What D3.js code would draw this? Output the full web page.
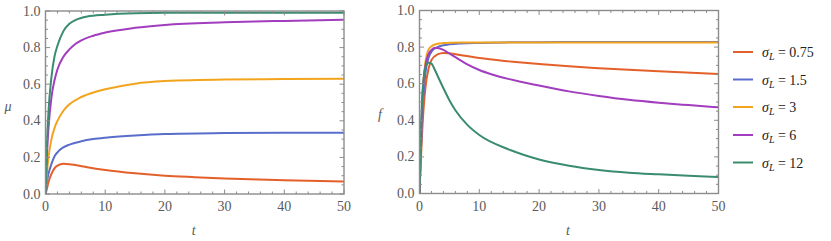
<!DOCTYPE html>
<html><head><meta charset="utf-8">
<script src="https://cdn.jsdelivr.net/npm/d3@7"></script>
<style>
html,body{margin:0;padding:0;background:#fff;}
svg text{font-family:"Liberation Serif","Times New Roman",Tinos,Times;}
</style></head>
<body>
<svg id="chart" width="831" height="241"></svg>
<script>
// ---------- data ----------
const sigmaLabels = ["0.75", "1.5", "3", "6", "12"];
const seriesColors = ["#E4602A", "#5B6DCB", "#F2A51C", "#A23DBF", "#3A8C6E"];
const xTicks = [0, 10, 20, 30, 40, 50];
const yTicks = [0.0, 0.2, 0.4, 0.6, 0.8, 1.0];

// left panel: mu(t)
const muT_075 = [0, 0.25, 0.5, 1, 1.5, 2, 3, 4, 5, 7, 10, 15, 20, 25, 30, 40, 50];
const muV_075 = [0, 0.03, 0.065, 0.11, 0.14, 0.155, 0.165, 0.163, 0.158, 0.146, 0.131, 0.113, 0.1, 0.092, 0.085, 0.075, 0.068];
const muT_15 = [0, 0.25, 0.5, 1, 1.5, 2, 3, 4, 6, 8, 10, 15, 20, 30, 40, 50];
const muV_15 = [0, 0.07, 0.11, 0.165, 0.205, 0.228, 0.255, 0.27, 0.288, 0.3, 0.308, 0.32, 0.328, 0.333, 0.335, 0.335];
const muT_3 = [0, 0.25, 0.5, 1, 1.5, 2, 3, 4, 6, 8, 10, 15, 20, 30, 40, 50];
const muV_3 = [0, 0.12, 0.2, 0.3, 0.36, 0.4, 0.455, 0.49, 0.53, 0.555, 0.572, 0.603, 0.617, 0.626, 0.628, 0.63];
const muT_6 = [0, 0.25, 0.5, 1, 1.5, 2, 3, 4, 5, 6, 8, 10, 15, 20, 30, 40, 50];
const muV_6 = [0, 0.22, 0.36, 0.53, 0.62, 0.68, 0.75, 0.79, 0.82, 0.84, 0.865, 0.882, 0.908, 0.924, 0.938, 0.946, 0.952];
const muT_12 = [0, 0.25, 0.5, 1, 1.5, 2, 3, 4, 5, 7, 10, 15, 20, 30, 40, 50];
const muV_12 = [0, 0.28, 0.45, 0.64, 0.75, 0.81, 0.89, 0.93, 0.95, 0.97, 0.98, 0.988, 0.99, 0.99, 0.99, 0.99];

// right panel: f(t)
const fT_075 = [0, 0.25, 0.5, 1, 1.5, 2, 3, 4, 5, 7, 10, 15, 20, 25, 30, 40, 50];
const fV_075 = [0, 0.2, 0.37, 0.58, 0.68, 0.73, 0.76, 0.768, 0.766, 0.755, 0.74, 0.722, 0.707, 0.695, 0.685, 0.668, 0.653];
const fT_15 = [0, 0.25, 0.5, 1, 1.5, 2, 3, 4, 5, 7, 10, 15, 20, 30, 40, 50];
const fV_15 = [0, 0.25, 0.45, 0.66, 0.74, 0.775, 0.8, 0.81, 0.815, 0.82, 0.823, 0.826, 0.827, 0.828, 0.828, 0.828];
const fT_3 = [0, 0.25, 0.5, 1, 1.5, 2, 3, 4, 5, 7, 10, 15, 20, 30, 40, 50];
const fV_3 = [0, 0.3, 0.52, 0.72, 0.785, 0.805, 0.818, 0.822, 0.824, 0.825, 0.825, 0.825, 0.825, 0.825, 0.825, 0.825];
const fT_6 = [0, 0.25, 0.5, 1, 1.5, 2, 2.5, 3, 4, 5, 6, 7, 8, 10, 12, 15, 20, 25, 30, 35, 40, 45, 50];
const fV_6 = [0, 0.3, 0.52, 0.7, 0.76, 0.785, 0.795, 0.795, 0.785, 0.765, 0.745, 0.725, 0.706, 0.675, 0.652, 0.625, 0.59, 0.558, 0.533, 0.512, 0.496, 0.483, 0.471];
const fT_12 = [0, 0.25, 0.5, 1, 1.5, 2, 2.5, 3, 4, 5, 6, 8, 10, 15, 20, 25, 30, 35, 40, 45, 50];
const fV_12 = [0, 0.35, 0.55, 0.69, 0.715, 0.71, 0.68, 0.645, 0.575, 0.51, 0.455, 0.375, 0.32, 0.24, 0.186, 0.152, 0.129, 0.114, 0.105, 0.097, 0.09];

const muSeries = [[muT_075, muV_075], [muT_15, muV_15], [muT_3, muV_3], [muT_6, muV_6], [muT_12, muV_12]];
const fSeries = [[fT_075, fV_075], [fT_15, fV_15], [fT_3, fV_3], [fT_6, fV_6], [fT_12, fV_12]];

// ---------- drawing ----------
const svg = d3.select("#chart");
const frameColor = "#8c8c8c";
const labelColor = "#5a5a5a";
const FONT = '"Liberation Serif", "Times New Roman", Tinos, Times';

function txt(sel) {
  return sel.append("text").attr("font-family", "Liberation Serif, Times New Roman, Tinos").style("font-family", FONT);
}

function panel(id, x0, x1, y0, y1, series, yLabel, yLabelPos) {
  const x = d3.scaleLinear().domain([0, 50]).range([x0, x1]);
  const y = d3.scaleLinear().domain([0, 1]).range([y1, y0]);
  const g = svg.append("g");

  g.append("clipPath").attr("id", "clip" + id)
    .append("rect").attr("x", x0).attr("y", y0).attr("width", x1 - x0).attr("height", y1 - y0);

  const line = d3.line().x(d => x(d[0])).y(d => y(d[1])).curve(d3.curveMonotoneX);
  const lines = g.append("g").attr("clip-path", `url(#clip${id})`);
  series.forEach((s, i) => {
    const pts = s[0].map((t, k) => [t, s[1][k]]);
    lines.append("path").attr("d", line(pts)).attr("fill", "none")
      .attr("stroke", seriesColors[i]).attr("stroke-width", 2).attr("stroke-linejoin", "round");
  });

  // ticks (inward, on all four sides)
  const minorX = d3.range(0, 50.001, 2);
  const minorY = d3.range(0, 1.0001, 0.05);
  const tg = g.append("g").attr("stroke", frameColor).attr("stroke-width", 1);
  minorX.forEach(t => {
    const major = Math.abs(t % 10) < 1e-6;
    const L = major ? 4.5 : 2.5;
    tg.append("line").attr("x1", x(t)).attr("x2", x(t)).attr("y1", y1).attr("y2", y1 - L);
    tg.append("line").attr("x1", x(t)).attr("x2", x(t)).attr("y1", y0).attr("y2", y0 + L);
  });
  minorY.forEach(v => {
    const major = Math.abs(Math.round(v * 100) % 20) < 1e-6;
    const L = major ? 4.5 : 2.5;
    tg.append("line").attr("y1", y(v)).attr("y2", y(v)).attr("x1", x0).attr("x2", x0 + L);
    tg.append("line").attr("y1", y(v)).attr("y2", y(v)).attr("x1", x1).attr("x2", x1 - L);
  });

  // frame
  g.append("rect").attr("x", x0).attr("y", y0).attr("width", x1 - x0).attr("height", y1 - y0)
    .attr("fill", "none").attr("stroke", frameColor).attr("stroke-width", 1.4);

  // tick labels
  xTicks.forEach(t => {
    txt(g).attr("x", x(t)).attr("y", y1 + 17).attr("text-anchor", "middle")
      .attr("font-size", 14).attr("fill", labelColor).text(t);
  });
  yTicks.forEach(v => {
    txt(g).attr("x", x0 - 5).attr("y", y(v) + 4.5).attr("text-anchor", "end")
      .attr("font-size", 14).attr("fill", labelColor).text(v.toFixed(1));
  });

  // axis labels
  txt(g).attr("x", (x0 + x1) / 2 - 1).attr("y", 235).attr("text-anchor", "middle")
    .attr("font-size", 14).attr("font-style", "italic").attr("fill", labelColor).text("t");
  txt(g).attr("x", yLabelPos[0]).attr("y", yLabelPos[1]).attr("text-anchor", "middle")
    .attr("font-size", 14).attr("font-style", "italic").attr("fill", labelColor).text(yLabel);
}

panel("L", 45.5, 344, 11, 194, muSeries, "μ", [8, 111]);
panel("R", 419.5, 718.5, 10.5, 193.5, fSeries, "f", [380, 119]);

// legend
const leg = svg.append("g");
const legY = [52, 79.5, 107, 135, 162.5];
sigmaLabels.forEach((s, i) => {
  leg.append("line").attr("x1", 733).attr("x2", 753).attr("y1", legY[i]).attr("y2", legY[i])
    .attr("stroke", seriesColors[i]).attr("stroke-width", 2);
  const t = txt(leg).attr("x", 762).attr("y", legY[i] + 5)
    .attr("font-size", 14).attr("fill", "#222");
  t.append("tspan").attr("font-style", "italic").text("σ");
  t.append("tspan").attr("font-style", "italic").attr("font-size", 10).attr("dy", 3).text("L");
  t.append("tspan").attr("dy", -3).text(" = " + s);
});
</script>
</body></html>
